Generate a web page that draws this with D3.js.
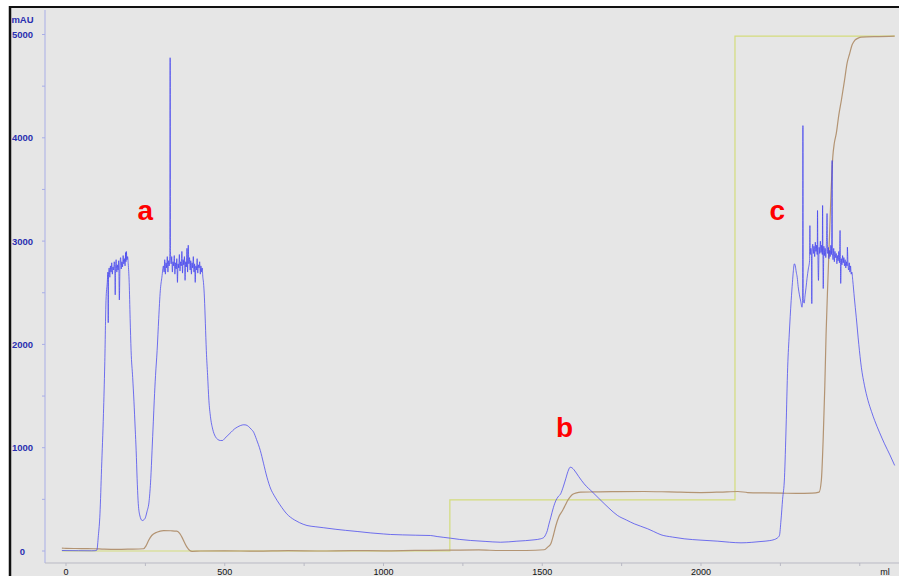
<!DOCTYPE html>
<html>
<head>
<meta charset="utf-8">
<script src="https://cdn.jsdelivr.net/npm/d3@7"></script>
<style>
  html, body { margin: 0; padding: 0; background: #ffffff; }
  svg { display: block; }
</style>
</head>
<body>
<svg id="chart" width="899" height="576"></svg>
<script>
// UV absorbance trace, [volume ml, mAU]
const uvTrace = [
  [-13, 5], [0, 4], [40, 3], [80, 2], [91, 3], [97, 8], [102, 150], [107, 360], [112, 800], [118, 1330],
  [122, 1800], [126, 2425], [130, 2600], [132, 2700], [133, 2210], [134, 2680], [136, 2740], [138, 2650],
  [140, 2760], [142, 2700], [144, 2790], [146, 2680], [148, 2750], [150, 2720], [152, 2800], [154, 2690],
  [155, 2480], [156, 2740], [158, 2820], [160, 2700], [162, 2770], [164, 2720], [166, 2810], [168, 2430],
  [170, 2760], [172, 2840], [174, 2730], [176, 2800], [178, 2750], [180, 2860], [182, 2780], [184, 2830],
  [186, 2760], [188, 2890], [189, 2800], [190, 2900], [192, 2820], [194, 2850], [196, 2780], [199, 2600],
  [202, 2250], [205, 1940], [210, 1680], [214, 1450], [218, 1180], [221, 970], [224, 700], [227, 490],
  [232, 350], [240, 295], [248, 310], [255, 380], [262, 490], [267, 700], [271, 970], [275, 1250],
  [278, 1460], [282, 1700], [287, 1940], [292, 2250], [297, 2520], [302, 2650], [307, 2760], [309, 2700],
  [311, 2820], [313, 2680], [315, 2790], [317, 2740], [319, 2850], [321, 2700], [323, 2810], [325, 2760],
  [327, 2880], [328, 4775], [329, 2900], [331, 2780], [333, 2850], [335, 2700], [337, 2800], [339, 2760],
  [341, 2860], [343, 2680], [345, 2790], [347, 2730], [349, 2830], [351, 2600], [353, 2780], [355, 2740],
  [357, 2870], [359, 2710], [361, 2800], [363, 2760], [365, 2900], [367, 2690], [369, 2820], [371, 2770],
  [373, 2850], [375, 2620], [377, 2800], [379, 2750], [381, 2930], [383, 2700], [385, 2960], [387, 2780],
  [389, 2840], [391, 2720], [393, 2810], [395, 2680], [397, 2790], [399, 2740], [401, 2850], [403, 2700],
  [405, 2780], [407, 2600], [409, 2760], [411, 2720], [413, 2830], [415, 2690], [417, 2770], [419, 2740],
  [421, 2800], [423, 2680], [425, 2760], [427, 2700], [429, 2740], [431, 2650], [433, 2600], [436, 2450],
  [439, 2200], [442, 1940], [446, 1700], [450, 1460], [455, 1300], [462, 1180], [470, 1110], [478, 1080],
  [486, 1070], [493, 1070], [500, 1090], [510, 1120], [520, 1150], [530, 1180], [540, 1200], [550, 1215],
  [560, 1222], [567, 1220], [575, 1205], [583, 1180], [591, 1150], [600, 1080], [612, 973], [622, 850],
  [633, 714], [645, 600], [655, 540], [665, 489], [680, 420], [695, 360], [707, 327], [720, 300],
  [735, 275], [759, 247], [785, 235], [812, 225], [850, 210], [880, 200], [917, 189], [960, 175],
  [1000, 165], [1022, 160], [1060, 156], [1100, 153], [1148, 150], [1169, 140], [1190, 132], [1211, 124],
  [1240, 112], [1274, 102], [1320, 93], [1369, 85], [1420, 95], [1474, 108], [1495, 118], [1506, 134],
  [1511, 160], [1516, 198], [1521, 260], [1527, 327], [1535, 420], [1543, 489], [1550, 525], [1558, 554],
  [1566, 620], [1574, 699], [1581, 770], [1588, 811], [1594, 805], [1600, 786], [1615, 720], [1632, 650],
  [1660, 565], [1685, 489], [1710, 415], [1737, 344], [1765, 300], [1790, 263], [1810, 240], [1832, 215],
  [1850, 190], [1874, 157], [1910, 135], [1947, 118], [2000, 105], [2053, 95], [2090, 85], [2126, 79],
  [2160, 84], [2189, 92], [2215, 100], [2231, 111], [2240, 125], [2247, 150], [2252, 300], [2257, 500],
  [2263, 714], [2268, 1200], [2273, 1779], [2278, 2100], [2284, 2425], [2288, 2600], [2291, 2715],
  [2294, 2780], [2297, 2760], [2300, 2700], [2303, 2650], [2306, 2560], [2310, 2480], [2314, 2420],
  [2318, 2360], [2320, 2420], [2321, 4118], [2322, 2430], [2325, 2400], [2328, 2480], [2331, 2554],
  [2334, 2640], [2338, 2730], [2342, 2812], [2343, 3150], [2344, 2870], [2346, 2930], [2348, 2860],
  [2349, 2395], [2350, 2900], [2352, 2970], [2354, 2880], [2356, 2950], [2358, 2850], [2360, 2990],
  [2362, 2900], [2364, 2960], [2366, 2870], [2367, 3296], [2368, 2920], [2370, 2619], [2372, 2940],
  [2374, 2880], [2376, 3000], [2378, 2890], [2380, 2960], [2382, 2870], [2383, 3345], [2384, 2900],
  [2385, 2541], [2387, 2950], [2389, 2860], [2391, 2930], [2393, 2840], [2395, 2980], [2397, 3267],
  [2399, 2880], [2401, 2940], [2403, 2830], [2405, 2910], [2407, 2850], [2409, 2960], [2411, 2870],
  [2413, 3780], [2414, 2880], [2416, 2820], [2418, 2930], [2420, 2800], [2422, 2900], [2424, 2840],
  [2426, 2880], [2428, 2780], [2430, 2860], [2432, 2810], [2434, 2900], [2436, 2790], [2438, 3103],
  [2439, 2850], [2440, 2590], [2442, 2830], [2444, 2770], [2446, 2860], [2448, 2790], [2450, 2840],
  [2452, 2760], [2454, 2820], [2456, 2740], [2458, 2800], [2460, 2760], [2461, 2941], [2463, 2780],
  [2465, 2720], [2467, 2790], [2469, 2700], [2471, 2760], [2473, 2680], [2475, 2700], [2478, 2619],
  [2483, 2450], [2489, 2263], [2497, 2000], [2505, 1779], [2515, 1600], [2526, 1457], [2537, 1350],
  [2547, 1263], [2562, 1150], [2578, 1038], [2595, 930], [2610, 828]
];

// Conductivity trace, [volume ml, mAU-scaled]
const condTrace = [
  [-13, 28], [0, 26], [30, 24], [60, 23], [86, 22], [120, 18], [160, 16], [200, 18], [244, 22], [252, 50],
  [260, 102], [270, 150], [286, 182], [307, 198], [330, 196], [349, 192], [358, 170], [365, 134], [372, 90],
  [381, 37], [390, 5], [397, -3], [423, 0], [500, 2], [600, -2], [700, 3], [800, 0], [900, 4], [1000, 2],
  [1100, 6], [1200, 8], [1300, 10], [1369, 5], [1450, 5], [1506, 12], [1518, 40], [1527, 70], [1535, 150],
  [1543, 247], [1552, 330], [1564, 392], [1572, 440], [1580, 489], [1588, 525], [1595, 547], [1608, 562],
  [1621, 569], [1660, 572], [1720, 575], [1821, 576], [1900, 572], [2000, 566], [2060, 570], [2116, 576],
  [2147, 566], [2200, 562], [2252, 560], [2300, 558], [2350, 560], [2372, 570], [2379, 682], [2385, 1100],
  [2390, 1600], [2394, 2105], [2400, 2650], [2405, 3073], [2410, 3500], [2415, 3812], [2420, 3950],
  [2426, 4040], [2434, 4220], [2442, 4361], [2452, 4555], [2460, 4720], [2468, 4813], [2476, 4900],
  [2484, 4942], [2495, 4965], [2505, 4974], [2560, 4980], [2610, 4984]
];

// Gradient (%B scaled to mAU axis), step program
const gradientTrace = [
  [-13, 0], [1209, 0], [1209, 495], [2107, 495], [2107, 4985], [2610, 4985]
];

// Axis ticks
const xTicks = [0, 250, 500, 750, 1000, 1250, 1500, 1750, 2000, 2250, 2500];
const xTickLabels = [0, 500, 1000, 1500, 2000];
const yTicks = [0, 500, 1000, 1500, 2000, 2500, 3000, 3500, 4000, 4500, 5000];
const yTickLabels = [0, 1000, 2000, 3000, 4000, 5000];

// Peak annotations
const peakNames = ["a", "b", "c"];
const peakAt = [[250, 3200], [1570, 1100], [2240, 3200]];

const svg = d3.select("#chart");
const W = 899, H = 576;

const x = d3.scaleLinear().domain([0, 2000]).range([66, 701]);
const y = d3.scaleLinear().domain([0, 5000]).range([551, 34.5]);

const axisX = 45, axisY = 563;

// frame
svg.append("rect").attr("x", 0).attr("y", 0).attr("width", W).attr("height", H).attr("fill", "#ffffff");
svg.append("rect").attr("x", 10).attr("y", 7).attr("width", W - 10).attr("height", H - 7).attr("fill", "#e6e6e6");
svg.append("line").attr("x1", 10).attr("x2", 10).attr("y1", 6).attr("y2", H)
  .attr("stroke", "#111").attr("stroke-width", 2.5);
svg.append("line").attr("x1", 9).attr("x2", W).attr("y1", 7).attr("y2", 7)
  .attr("stroke", "#111").attr("stroke-width", 2);

// y axis
svg.append("line").attr("x1", axisX).attr("x2", axisX).attr("y1", 10).attr("y2", axisY)
  .attr("stroke", "#a9aee6").attr("stroke-width", 1);
svg.append("g").selectAll("line").data(yTicks).join("line")
  .attr("x1", axisX - 3).attr("x2", axisX)
  .attr("y1", d => y(d)).attr("y2", d => y(d))
  .attr("stroke", "#a9aee6");
svg.append("g").selectAll("text").data(yTickLabels).join("text")
  .attr("x", 22.5).attr("y", d => y(d) + 3.5)
  .attr("text-anchor", "middle")
  .attr("font-family", "Liberation Sans, Arial, sans-serif")
  .attr("font-size", 9.5).attr("font-weight", "bold")
  .attr("fill", "#2a2fb0")
  .text(d => d);
svg.append("text").attr("x", 22.5).attr("y", 23)
  .attr("text-anchor", "middle")
  .attr("font-family", "Liberation Sans, Arial, sans-serif")
  .attr("font-size", 9.5).attr("font-weight", "bold")
  .attr("fill", "#2a2fb0").text("mAU");

// x axis
svg.append("line").attr("x1", axisX).attr("x2", W).attr("y1", axisY).attr("y2", axisY)
  .attr("stroke", "#b9b9c4").attr("stroke-width", 1);
svg.append("g").selectAll("line").data(xTicks).join("line")
  .attr("x1", d => x(d)).attr("x2", d => x(d))
  .attr("y1", axisY).attr("y2", axisY + 3)
  .attr("stroke", "#b9b9c4");
svg.append("g").selectAll("text").data(xTickLabels).join("text")
  .attr("x", d => x(d)).attr("y", 575)
  .attr("text-anchor", "middle")
  .attr("font-family", "Liberation Sans, Arial, sans-serif")
  .attr("font-size", 9)
  .attr("fill", "#111")
  .text(d => d);
svg.append("text").attr("x", 885).attr("y", 575)
  .attr("text-anchor", "middle")
  .attr("font-family", "Liberation Sans, Arial, sans-serif")
  .attr("font-size", 9).attr("fill", "#111").text("ml");

// traces
const lineSmooth = d3.line().x(d => x(d[0])).y(d => y(d[1])).curve(d3.curveMonotoneX);
const lineStep = d3.line().x(d => x(d[0])).y(d => y(d[1]));

svg.append("path").datum(gradientTrace).attr("d", lineStep)
  .attr("fill", "none").attr("stroke", "#d3dc7c").attr("stroke-width", 1.2);
svg.append("path").datum(condTrace).attr("d", lineSmooth)
  .attr("fill", "none").attr("stroke", "#b39473").attr("stroke-width", 1.2);
svg.append("path").datum(uvTrace).attr("d", lineSmooth)
  .attr("fill", "none").attr("stroke", "#3a3af0").attr("stroke-opacity", 0.7).attr("stroke-width", 1);

// peak labels
svg.append("g").selectAll("text").data(peakNames).join("text")
  .attr("x", (d, i) => x(peakAt[i][0]))
  .attr("y", (d, i) => y(peakAt[i][1]))
  .attr("text-anchor", "middle")
  .attr("font-family", "Liberation Sans, Arial, sans-serif")
  .attr("font-size", 28).attr("font-weight", "bold")
  .attr("fill", "#ff0000")
  .text(d => d);
</script>
</body>
</html>
